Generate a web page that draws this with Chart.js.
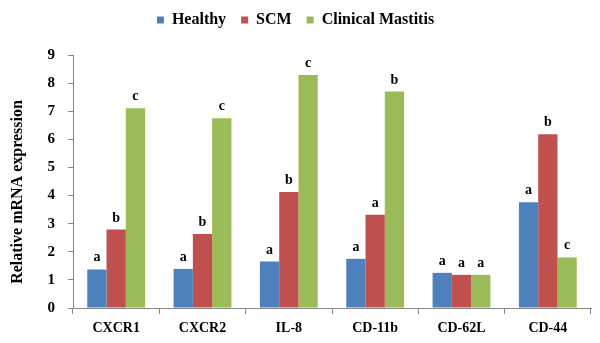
<!DOCTYPE html>
<html>
<head>
<meta charset="utf-8">
<script src="https://cdn.jsdelivr.net/npm/chart.js@4.4.1/dist/chart.umd.min.js"></script>
<style>
  html, body { margin: 0; padding: 0; background: #fff; }
  #wrap { width: 600px; height: 343px; }
</style>
</head>
<body>
<div id="wrap"><canvas id="expr" width="600" height="343"></canvas></div>
<script>
const genes = ['CXCR1', 'CXCR2', 'IL-8', 'CD-11b', 'CD-62L', 'CD-44'];
const healthy = [1.37, 1.39, 1.65, 1.75, 1.25, 3.76];
const scm = [2.79, 2.63, 4.13, 3.32, 1.18, 6.18];
const clinical = [7.11, 6.75, 8.29, 7.70, 1.18, 1.80];

// significance letters, one array per group
const healthyLetters = ['a', 'a', 'a', 'a', 'a', 'a'];
const scmLetters = ['b', 'b', 'b', 'a', 'a', 'b'];
const clinicalLetters = ['c', 'c', 'c', 'b', 'a', 'c'];

const serif = '"Liberation Serif", "Times New Roman", serif';
const axisGrey = '#868686';

// letters above each bar
const letterPlugin = {
    id: 'letters',
    afterDatasetsDraw(chart) {
        const ctx = chart.ctx;
        ctx.save();
        ctx.font = 'bold 14px ' + serif;
        ctx.fillStyle = '#000';
        ctx.textAlign = 'center';
        ctx.textBaseline = 'alphabetic';
        chart.data.datasets.forEach((ds, i) => {
            const meta = chart.getDatasetMeta(i);
            meta.data.forEach((bar, j) => {
                ctx.fillText(ds.letters[j], bar.x, bar.y - 8);
            });
        });
        ctx.restore();
    }
};

// rotated y title, placed beside the tick labels
const yTitlePlugin = {
    id: 'yTitle',
    afterDraw(chart) {
        const ctx = chart.ctx;
        ctx.save();
        ctx.translate(18, 192);
        ctx.rotate(-Math.PI / 2);
        ctx.font = 'bold 16px ' + serif;
        ctx.fillStyle = '#000';
        ctx.textAlign = 'center';
        ctx.textBaseline = 'middle';
        ctx.fillText('Relative mRNA expression', 0, 0);
        ctx.restore();
    }
};

// extra room under the legend
const legendGap = {
    id: 'legendGap',
    beforeInit(chart) {
        const fit = chart.legend.fit;
        chart.legend.fit = function () {
            fit.call(this);
            this.height += 17;
        };
    }
};

new Chart(document.getElementById('expr'), {
    type: 'bar',
    data: {
        labels: genes,
        datasets: [
            { label: 'Healthy', data: healthy, letters: healthyLetters, backgroundColor: '#4F81BD' },
            { label: 'SCM', data: scm, letters: scmLetters, backgroundColor: '#C0504D' },
            { label: 'Clinical Mastitis', data: clinical, letters: clinicalLetters, backgroundColor: '#9BBB59' }
        ]
    },
    options: {
        responsive: false,
        animation: false,
        layout: { padding: { top: -3, right: 9, bottom: 0, left: 0 } },
        datasets: {
            bar: { categoryPercentage: 0.67, barPercentage: 1.0, borderWidth: 0 }
        },
        plugins: {
            legend: {
                position: 'top',
                labels: {
                    boxWidth: 7,
                    boxHeight: 7,
                    padding: 15,
                    color: '#000',
                    font: { family: serif, size: 16, weight: 'bold' }
                }
            },
            tooltip: { enabled: false }
        },
        scales: {
            x: {
                grid: { drawOnChartArea: false, drawTicks: true, tickLength: 6, color: axisGrey },
                border: { display: true, color: axisGrey },
                ticks: {
                    color: '#000',
                    padding: 6,
                    font: { family: serif, size: 14, weight: 'bold' }
                },
                afterFit: (scale) => { scale.height = 35; }
            },
            y: {
                min: 0,
                max: 9,
                grid: { drawOnChartArea: false, drawTicks: true, tickLength: 5, color: axisGrey },
                border: { display: true, color: axisGrey },
                ticks: {
                    stepSize: 1,
                    color: '#000',
                    padding: 13,
                    font: { family: serif, size: 15, weight: 'bold' }
                },
                afterFit: (scale) => { scale.width = 73; }
            }
        }
    },
    plugins: [letterPlugin, yTitlePlugin, legendGap]
});
</script>
</body>
</html>
